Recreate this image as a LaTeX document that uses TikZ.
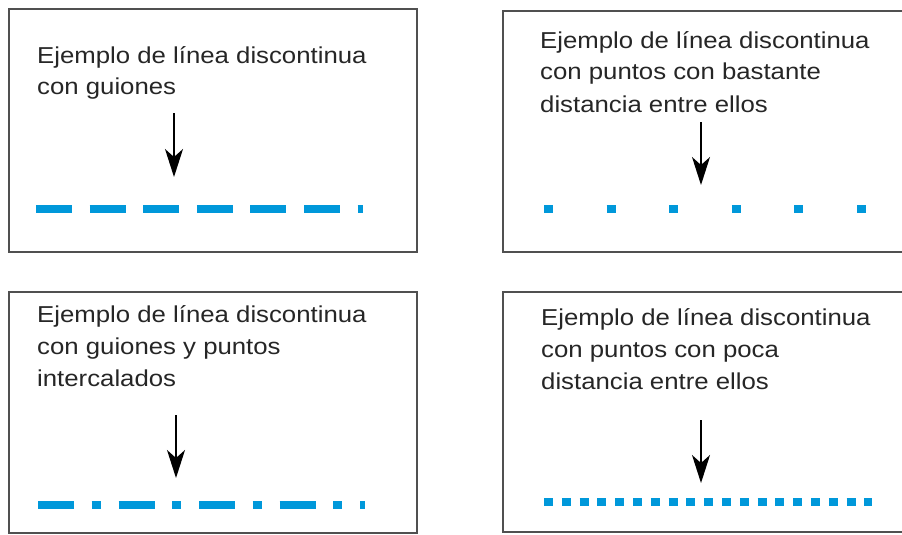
\documentclass[tikz,border=0pt]{standalone}
\usepackage{fontspec}
\setmainfont{Liberation Sans}
\newfontfamily\labelfont{Liberation Sans}[FakeStretch=1.12]
\usetikzlibrary{arrows.meta}
\definecolor{dashblue}{RGB}{0,152,218}
\definecolor{boxgray}{RGB}{80,80,80}
\tikzset{
  panel/.style={draw=boxgray,line width=2pt},
  caption/.style={anchor=base west,inner sep=0pt,align=left,
    font=\labelfont\fontsize{23}{32}\selectfont,text=black!85},
  pointer/.style={draw=black,line width=1.5pt,
    -{Stealth[length=28pt,width=18pt,inset=8pt]}},
  sample/.style={draw=dashblue,line width=8.5pt,line cap=butt}
}
\begin{document}
\begin{tikzpicture}[x=1pt,y=-1pt]
\useasboundingbox (0,0) rectangle (902,535);
\clip (0,0) rectangle (902,535);
\fill[white] (0,0) rectangle (902,535);
% panels
\draw[panel] (9,9) rectangle (417,252);
\draw[panel] (503,11) rectangle (920,252);
\draw[panel] (9,292) rectangle (417,533);
\draw[panel] (503,292) rectangle (920,532);
% captions (anchored at the baseline of their last line)
\node[caption] (t1) at (37,95) {Ejemplo de línea discontinua\\con guiones};
\node[caption] (t2) at (540,112) {Ejemplo de línea discontinua\\con puntos con bastante\\distancia entre ellos};
\node[caption] (t3) at (37,386) {Ejemplo de línea discontinua\\con guiones y puntos\\intercalados};
\node[caption] (t4) at (541,389) {Ejemplo de línea discontinua\\con puntos con poca\\distancia entre ellos};
% sample lines
\coordinate (l1a) at (36,209); \coordinate (l1b) at (363,209);
\coordinate (l2a) at (544,209); \coordinate (l2b) at (866,209);
\coordinate (l3a) at (38,505); \coordinate (l3b) at (365,505);
\coordinate (l4a) at (544,502); \coordinate (l4b) at (872,502);
\draw[sample,dash pattern=on 36pt off 17.6pt] (l1a) -- (l1b);
\draw[sample,dash pattern=on 9pt off 53.6pt] (l2a) -- (l2b);
\draw[sample,dash pattern=on 36pt off 17.5pt on 9pt off 18pt] (l3a) -- (l3b);
\draw[sample,dash pattern=on 9pt off 8.8pt] (l4a) -- (l4b);
% arrows
\coordinate (a1s) at (174,113); \coordinate (a1e) at (174,177);
\coordinate (a2s) at (701,122); \coordinate (a2e) at (701,185);
\coordinate (a3s) at (176,415); \coordinate (a3e) at (176,478);
\coordinate (a4s) at (701,420); \coordinate (a4e) at (701,483);
\draw[pointer] (a1s) -- (a1e);
\draw[pointer] (a2s) -- (a2e);
\draw[pointer] (a3s) -- (a3e);
\draw[pointer] (a4s) -- (a4e);
\end{tikzpicture}
\end{document}
